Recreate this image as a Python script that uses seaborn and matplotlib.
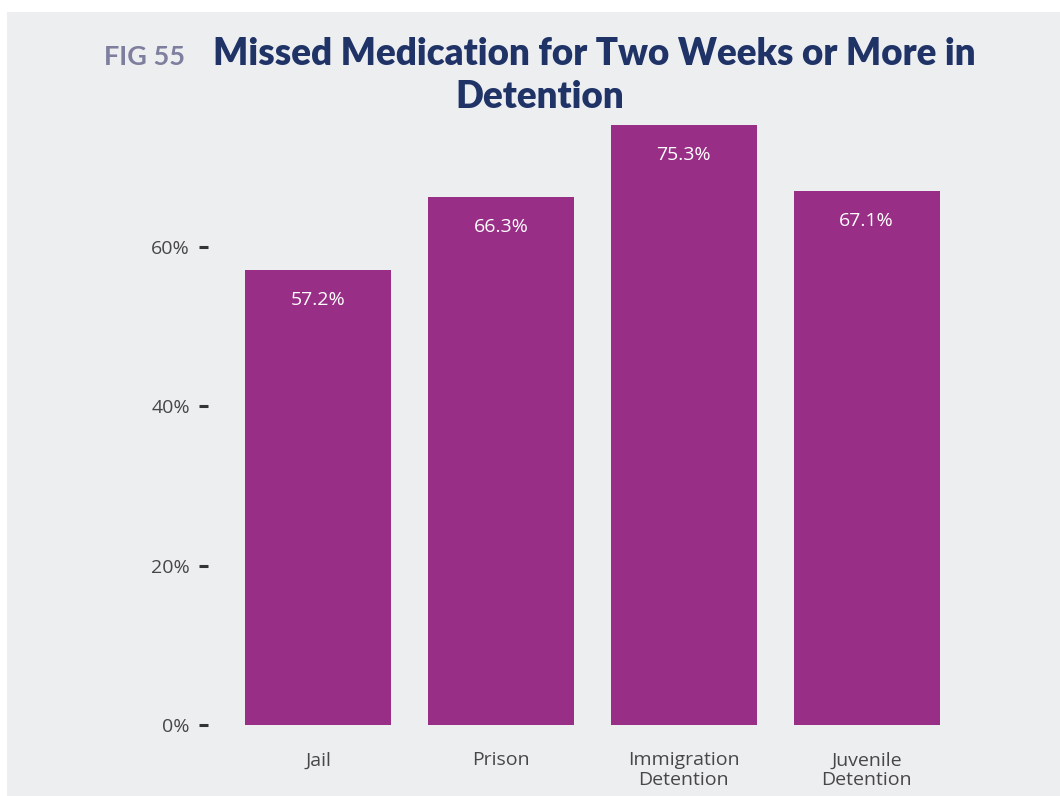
import matplotlib
matplotlib.use("Agg")
import matplotlib.pyplot as plt
import seaborn as sns
import pandas as pd
from matplotlib.patches import Rectangle

categories = ["Jail", "Prison", "Immigration\nDetention", "Juvenile\nDetention"]
values = [57.2, 66.3, 75.3, 67.1]
y_ticks = [0, 20, 40, 60]
y_tick_labels = ["0%", "20%", "40%", "60%"]
fig_label = "FIG 55"
title_line1 = "Missed Medication for Two Weeks or More in"
title_line2 = "Detention"

BG = "#EDEEF0"
BAR = "#982E86"
NAVY = "#1F3366"
FIGGRAY = "#7E7E9E"
TXT = "#474747"

sns.set_theme(style="white")
plt.rcParams["font.family"] = ["Open Sans", "DejaVu Sans"]

df = pd.DataFrame({"category": categories, "value": values})

fig = plt.figure(figsize=(10.6, 7.96), dpi=100, facecolor="white")
panel = Rectangle((7 / 1060, 0), 1 - 7 / 1060, 1 - 12 / 796,
                  transform=fig.transFigure, facecolor=BG,
                  edgecolor="none", zorder=-10)
fig.patches.append(panel)

ax = fig.add_axes([227 / 1060, 71 / 796, 731 / 1060, 606 / 796])
ax.set_zorder(2)
ax.patch.set_alpha(0)

sns.barplot(data=df, x="category", y="value", color=BAR, saturation=1,
            width=0.8, linewidth=0, ax=ax)

ax.set_xlim(-0.5, 3.5)
ax.set_ylim(0, 76.1)
ax.set_yticks(y_ticks)
ax.set_yticklabels(y_tick_labels)
ax.set_xlabel("")
ax.set_ylabel("")

for s in ax.spines.values():
    s.set_visible(False)
# tick dashes sit apart from the plot area
ax.spines["left"].set_position(("outward", 13.7))

ax.tick_params(axis="y", which="major", left=True, length=6.5, width=2.2,
               color="#333333", pad=6.5, labelsize=14, labelcolor=TXT)
ax.tick_params(axis="x", bottom=False, pad=13, labelsize=14, labelcolor=TXT)
for lbl in ax.get_xticklabels():
    lbl.set_linespacing(1.15)
    lbl.set_verticalalignment("top")

for i, v in enumerate(values):
    ax.annotate(f"{v:.1f}%", xy=(i, v), xytext=(0, -30),
                textcoords="offset pixels", ha="center", va="center",
                color="white", fontsize=14)

fig.text(104 / 1060, 1 - 65 / 796, fig_label, color=FIGGRAY, fontsize=19.5,
         fontweight="bold", ha="left", va="baseline",
         family=["Lato", "DejaVu Sans"])
fig.text(213 / 1060, 1 - 65 / 796, title_line1, color=NAVY, fontsize=26.5,
         fontweight="heavy", ha="left", va="baseline",
         family=["Lato", "DejaVu Sans"])
fig.text(540 / 1060, 1 - 108 / 796, title_line2, color=NAVY, fontsize=26.5,
         fontweight="heavy", ha="center", va="baseline",
         family=["Lato", "DejaVu Sans"])

fig.savefig("out.png", dpi=100, facecolor="white")
